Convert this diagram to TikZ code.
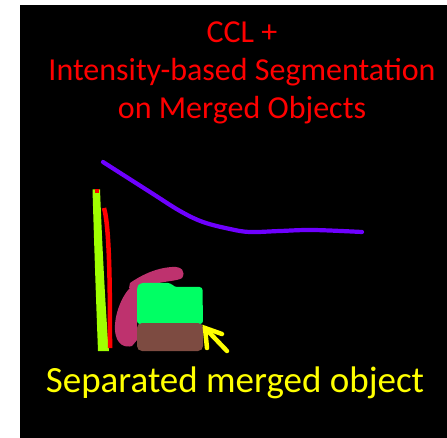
\documentclass[tikz,border=0pt]{standalone}
\usepackage{fontspec}
\setmainfont{Carlito}
\definecolor{ttlred}{RGB}{255,0,0}
\definecolor{capyel}{RGB}{255,255,0}
\definecolor{violetline}{RGB}{110,0,255}
\definecolor{limegr}{RGB}{160,255,0}
\definecolor{pinkblob}{RGB}{190,50,110}
\definecolor{springgr}{RGB}{0,255,100}
\definecolor{brownbox}{RGB}{125,75,65}
\definecolor{redline}{RGB}{255,0,0}
\tikzset{
  titletext/.style={text=ttlred, font=\fontsize{32}{38}\selectfont, align=center, inner sep=0pt},
  captext/.style={text=capyel, font=\fontsize{37}{40}\selectfont, inner sep=0pt},
}
\begin{document}
\begin{tikzpicture}[x=1pt,y=-1pt]
\useasboundingbox (0,0) rectangle (447,438);
\fill[white] (0,0) rectangle (447,438);
\fill[black] (20,5) rectangle (447,438);
% title and caption
\node[titletext, anchor=base] (title) at (242,119) {CCL +\\Intensity-based Segmentation\\on Merged Objects};
\node[captext, anchor=base] (caption) at (235,392) {Separated merged object};
% violet curve
\draw[violetline, line width=4.2pt, line cap=round] plot[smooth, tension=0.6] coordinates
  {(103,162) (150,192) (180,211) (203,222) (230,229) (250,232) (280,231) (313,230) (362,232)};
% lime stroke
\fill[limegr] (92.5,189.5) -- (100,189.5) .. controls (102,240) and (105,300) .. (108,340) -- (109,351) -- (98,351)
  .. controls (96,300) and (94,240) .. cycle;
\fill[redline] (94.5,189) rectangle (98.5,193);
% red stroke
\draw[redline, line width=4.5pt] (104,208) .. controls (110,228) and (110,300) .. (110,348);
% pink blob
\fill[pinkblob] (131,287) .. controls (122,295) and (114,315) .. (115,330)
  .. controls (116,345) and (125,348) .. (132,346) -- (137,340) -- (137,290) -- cycle;
\fill[pinkblob] (130,283) .. controls (140,276) and (155,268) .. (172,267)
  .. controls (182,266) and (186,272) .. (182,278) .. controls (178,281) and (165,281) .. (155,284)
  -- (136,291) -- (129,288) -- cycle;
% green box
\fill[springgr, rounded corners=3pt] (137,287) -- (140,283) -- (171,283) -- (174,287) -- (202.5,287) -- (203,324) -- (137,324) -- cycle;
% brown box
\fill[brownbox, rounded corners=5pt] (137,323) -- (203,323) -- (203,351) -- (137,351) -- cycle;
% yellow arrow
\draw[capyel, line width=4.5pt, line cap=round, line join=miter] (227,351) -- (205,328);
\draw[capyel, line width=4.5pt, line cap=round, line join=miter] (207,348) -- (205,328) -- (222,334);
\end{tikzpicture}
\end{document}
